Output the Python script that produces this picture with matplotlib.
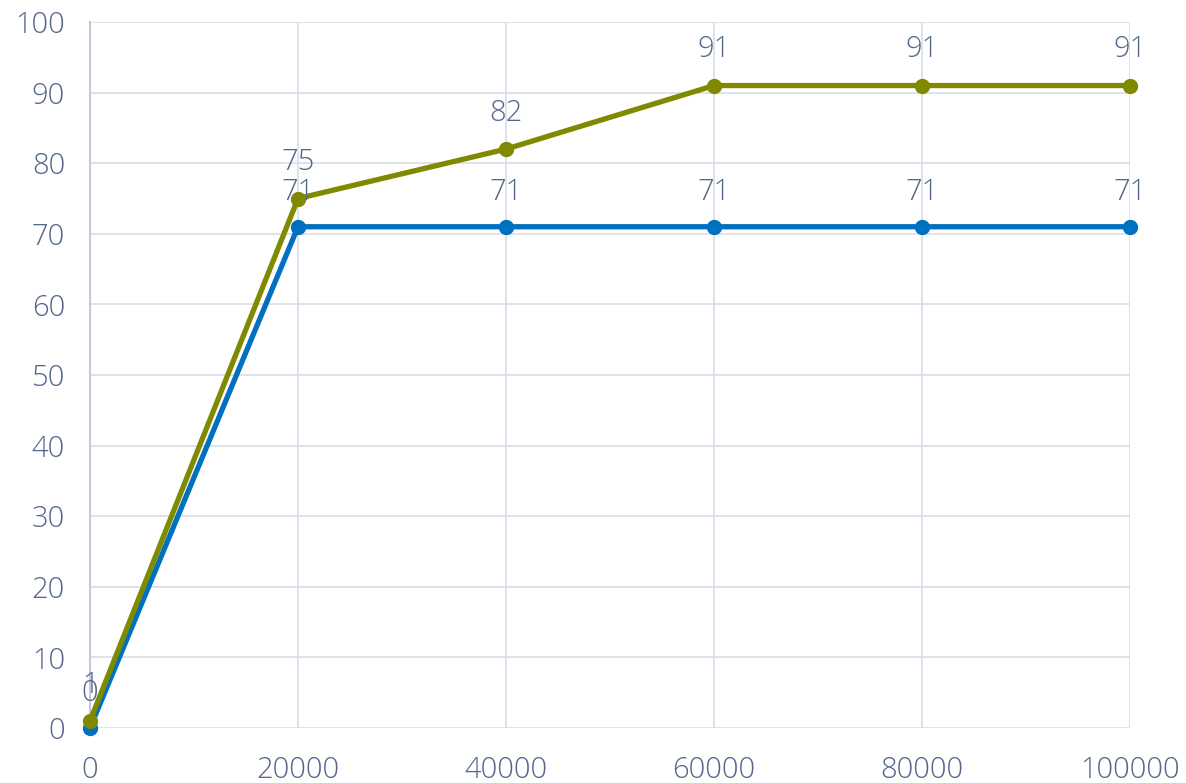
import matplotlib.pyplot as plt
from matplotlib.ticker import MultipleLocator

# =========================
# Data
# =========================
x_vals = [0, 20000, 40000, 60000, 80000, 100000]
blue_vals = [0, 71, 71, 71, 71, 71]
olive_vals = [1, 75, 82, 91, 91, 91]

BLUE = "#0070C0"
OLIVE = "#7F8A00"
TEXT = "#56678C"
GRID = "#DADDE8"
FS = 21

plt.rcParams["font.family"] = ["Open Sans", "DejaVu Sans"]
plt.rcParams["font.weight"] = "light"

fig = plt.figure(figsize=(11.86, 7.83), dpi=100)
ax = fig.add_axes([90 / 1186, 1 - 728 / 783, 1040 / 1186, 706 / 783])

ax.plot(x_vals, blue_vals, color=BLUE, lw=3.8, marker="o", ms=10,
        solid_capstyle="round", zorder=3, clip_on=False)
ax.plot(x_vals, olive_vals, color=OLIVE, lw=3.8, marker="o", ms=10,
        solid_capstyle="round", zorder=4, clip_on=False)

# Value labels above each point
for xv, yv in zip(x_vals, blue_vals):
    ax.annotate(str(yv), (xv, yv), xytext=(0, 25), textcoords="offset points",
                ha="center", va="center", fontsize=FS, color=TEXT, zorder=5)
for xv, yv in zip(x_vals, olive_vals):
    ax.annotate(str(yv), (xv, yv), xytext=(0, 26), textcoords="offset points",
                ha="center", va="center", fontsize=FS, color=TEXT, zorder=5)

ax.set_xlim(0, 100000)
ax.set_ylim(0, 100)
ax.xaxis.set_major_locator(MultipleLocator(20000))
ax.yaxis.set_major_locator(MultipleLocator(10))

ax.grid(True, color=GRID, lw=1.2)
ax.set_axisbelow(True)
for side in ["top", "right", "bottom"]:
    ax.spines[side].set_visible(False)
ax.spines["left"].set_color("#C3C7D8")
ax.spines["left"].set_linewidth(1.4)

ax.tick_params(axis="both", length=0, labelsize=FS, labelcolor=TEXT)
ax.tick_params(axis="x", pad=20)
ax.tick_params(axis="y", pad=18)

fig.savefig("out.png", dpi=100)
